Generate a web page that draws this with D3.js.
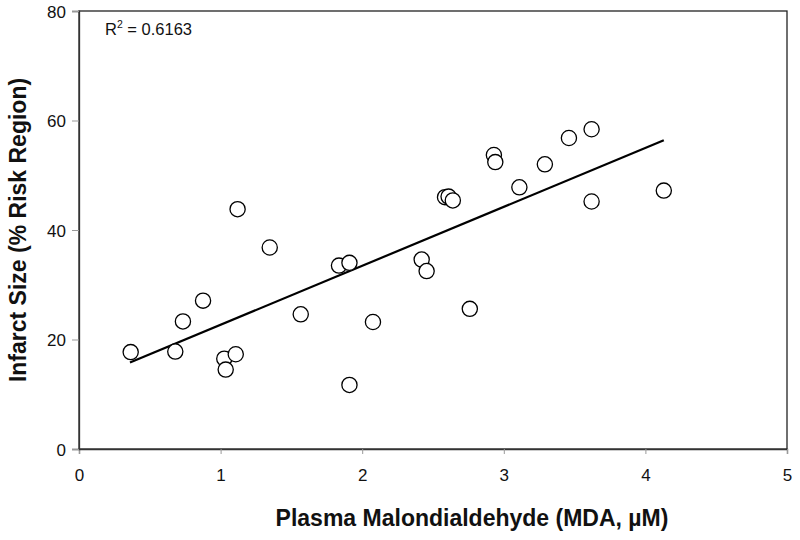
<!DOCTYPE html>
<html><head><meta charset="utf-8">
<script src="https://cdn.jsdelivr.net/npm/d3@7"></script>
<style>body{margin:0;background:#fff}svg{display:block}text{font-family:"Liberation Sans",Arial,sans-serif}</style>
</head><body>
<svg id="c" width="800" height="540"></svg>
<script>
const mdaValues = [0.365,0.68,0.734,0.876,1.026,1.036,1.107,1.12,1.347,1.566,1.836,1.91,1.91,2.076,
  2.42,2.455,2.585,2.61,2.64,2.76,2.93,2.94,3.11,3.29,3.46,3.62,3.62,4.13];
const infarctValues = [17.7,17.8,23.3,27.1,16.5,14.5,17.3,43.8,36.8,24.6,33.5,34.0,11.7,23.2,
  34.6,32.5,46.0,46.1,45.4,25.6,53.7,52.4,47.8,52.0,56.8,58.4,45.2,47.2];
const trendX = [0.36,4.13];
const trendY = [15.8,56.4];
const xTicks = [0,1,2,3,4,5];
const yTicks = [0,20,40,60,80];
const r2Label = "0.6163";

const svg = d3.select("#c");
const L=79, R=787, T=11, B=449;
const x = d3.scaleLinear().domain([0,5]).range([L,R]);
const y = d3.scaleLinear().domain([0,80]).range([B,T]);

// frame
svg.append("rect").attr("x",L).attr("y",T).attr("width",R-L).attr("height",B-T)
  .attr("fill","none").attr("stroke","#222").attr("stroke-width",1.3);

const xa = svg.append("g").attr("transform",`translate(0,${B})`)
  .call(d3.axisBottom(x).tickValues(xTicks).tickSize(5).tickPadding(15).tickFormat(d3.format("d")));
const ya = svg.append("g").attr("transform",`translate(${L},0)`)
  .call(d3.axisLeft(y).tickValues(yTicks).tickSize(7).tickPadding(6).tickFormat(d3.format("d")));
[xa,ya].forEach(a=>{
  a.select(".domain").attr("stroke","#333").attr("stroke-width",1.3);
  a.selectAll(".tick line").attr("stroke","#999");
  a.selectAll(".tick text").attr("font-size",17).attr("fill","#111")
   .style("font-family",'"Liberation Sans",Arial,sans-serif');
});
ya.selectAll(".tick text").attr("dy","0.36em");

// trend line
svg.append("line")
  .attr("x1",x(trendX[0])).attr("y1",y(trendY[0]))
  .attr("x2",x(trendX[1])).attr("y2",y(trendY[1]))
  .attr("stroke","#000").attr("stroke-width",2.2);

// points
svg.append("g").selectAll("circle").data(mdaValues.map((v,i)=>[v,infarctValues[i]])).join("circle")
  .attr("cx",d=>x(d[0])).attr("cy",d=>y(d[1])).attr("r",7.6)
  .attr("fill","#fff").attr("stroke","#000").attr("stroke-width",1.3);

// R2 label
const t = svg.append("text").attr("x",105).attr("y",35).attr("font-size",16.5).attr("fill","#111");
t.append("tspan").text("R");
t.append("tspan").attr("font-size",10.5).attr("dy",-7).text("2");
t.append("tspan").attr("dy",7).text(" = "+r2Label);

// axis titles
svg.append("text").attr("x",472).attr("y",526).attr("text-anchor","middle")
  .attr("font-size",23).attr("font-weight","bold").attr("fill","#111")
  .text("Plasma Malondialdehyde (MDA, µM)");
svg.append("text").attr("transform","translate(26,230) rotate(-90)").attr("text-anchor","middle")
  .attr("font-size",23).attr("font-weight","bold").attr("fill","#111")
  .text("Infarct Size (% Risk Region)");
</script>
</body></html>
